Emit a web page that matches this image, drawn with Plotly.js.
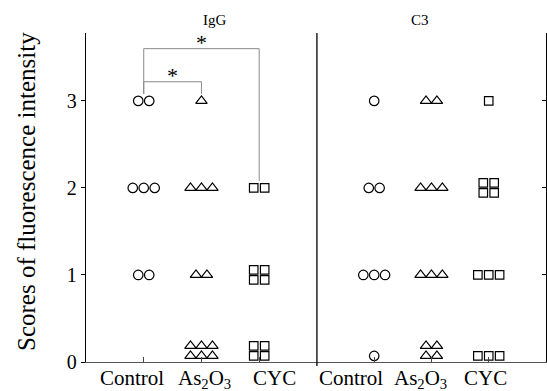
<!DOCTYPE html>
<html>
<head>
<meta charset="utf-8">
<script src="https://cdn.plot.ly/plotly-3.0.1.min.js"></script>
<style>html,body{margin:0;padding:0;background:#fff}#chart{width:547px;height:391px}</style>
</head>
<body>
<div id="chart"></div>
<script>
// ---- data (scores of each animal) ----
const categories = ['Control', 'As<sub>2</sub>O<sub>3</sub>', 'CYC'];
const panels = ['IgG', 'C3'];
const yTicks = [0, 1, 2, 3];
const yTitle = 'Scores of fluorescence intensity';

const iggControl = [3, 3, 2, 2, 2, 1, 1];
const iggAs2O3   = [3, 2, 2, 2, 1, 1, 0, 0, 0, 0, 0, 0];
const iggCYC     = [2, 2, 1, 1, 1, 1, 0, 0, 0, 0];

const c3Control  = [3, 2, 2, 1, 1, 1, 0];
const c3As2O3    = [3, 3, 2, 2, 2, 1, 1, 1, 0, 0, 0, 0];
const c3CYC      = [3, 2, 2, 2, 2, 1, 1, 1, 0, 0, 0];

// significance comparisons in IgG panel: [groupA, groupB, label]
const sigPairs = [[0, 1, '*'], [0, 2, '*']];

// ---- styling / layout helpers ----
const symbols = ['circle-open', 'triangle-up-open', 'square-open'];
const sizes = [9.5, 10, 8.5];
const dx = 0.19, dy = 0.115, zeroLift = 0.07;
const labelShift = [[-12, 3, 15], [-23, -11, -3]]; // px offsets of category labels

function arrange(scores, pos) {
  const counts = {};
  scores.forEach(s => counts[s] = (counts[s] || 0) + 1);
  const xs = [], ys = [];
  Object.keys(counts).forEach(k => {
    const s = +k, n = counts[k];
    const cols = n === 4 ? 2 : Math.min(n, 3);
    const rows = Math.ceil(n / cols);
    const center = s === 0 ? zeroLift + (rows - 1) * dy / 2 : s;
    for (let i = 0; i < n; i++) {
      const r = Math.floor(i / cols), c = i % cols;
      const inRow = Math.min(cols, n - r * cols);
      xs.push(pos + (c - (inRow - 1) / 2) * dx);
      ys.push(center + ((rows - 1) / 2 - r) * dy);
    }
  });
  return {xs, ys};
}

const panelData = [[iggControl, iggAs2O3, iggCYC], [c3Control, c3As2O3, c3CYC]];
const traces = [];
panelData.forEach((groups, p) => {
  groups.forEach((g, i) => {
    const a = arrange(g, i + 1);
    traces.push({
      x: a.xs, y: a.ys, type: 'scatter', mode: 'markers',
      xaxis: p === 0 ? 'x' : 'x2', yaxis: 'y',
      marker: {symbol: symbols[i], size: sizes[i], color: '#000', line: {color: '#000', width: 1.2}},
      showlegend: false, hoverinfo: 'skip'
    });
  });
});
// invisible trace for right axis
traces.push({x: [0], y: [0], xaxis: 'x2', yaxis: 'y2', mode: 'markers', marker: {opacity: 0}, showlegend: false, hoverinfo: 'skip'});

const serif = 'Liberation Serif, Times New Roman, serif';
const split = 0.502;
const yTop = 3.78;

const shapes = [];
const annotations = [];
const lv = [3.22, 3.6];
sigPairs.forEach((sp, k) => {
  const [a, b, lab] = sp;
  const g = panelData[0];
  const h = lv[k];
  const ea = Math.max(...g[a]) + 0.08, eb = Math.max(...g[b]) + 0.08;
  const st = {color: '#8a8a8a', width: 1};
  shapes.push({type: 'line', xref: 'x', yref: 'y', x0: a + 1, x1: b + 1, y0: h, y1: h, line: st});
  shapes.push({type: 'line', xref: 'x', yref: 'y', x0: a + 1, x1: a + 1, y0: h, y1: ea, line: st});
  shapes.push({type: 'line', xref: 'x', yref: 'y', x0: b + 1, x1: b + 1, y0: h, y1: eb, line: st});
  annotations.push({xref: 'x', yref: 'y', x: (a + b) / 2 + 1, y: h, text: lab, showarrow: false,
    yanchor: 'bottom', yshift: -8, font: {family: serif, size: 22, color: '#000'}});
});
// divider between panels
shapes.push({type: 'line', xref: 'paper', yref: 'paper', x0: split, x1: split, y0: -0.012, y1: 1, line: {color: '#000', width: 1.3}});

panels.forEach((t, p) => {
  annotations.push({xref: 'paper', yref: 'paper', x: p === 0 ? split / 2 : (split + 1) / 2, y: 1, yanchor: 'bottom', yshift: 3,
    text: t, showarrow: false, font: {family: serif, size: 15, color: '#000'}});
  // category labels
  categories.forEach((c, i) => {
    annotations.push({xref: p === 0 ? 'x' : 'x2', yref: 'paper', x: i + 1, y: 0, yanchor: 'top', yshift: -2,
      xshift: labelShift[p][i], text: c, showarrow: false, font: {family: serif, size: 21, color: '#000'}});
  });
});
// y axis title
annotations.push({xref: 'paper', yref: 'paper', x: 0, y: 0.5, xshift: -75, yshift: 6, textangle: -90,
  text: yTitle, showarrow: false, font: {family: serif, size: 25, color: '#000'}});

const xCommon = {
  range: [0, 4], tickvals: [1, 2, 3], ticktext: categories, showticklabels: false, ticks: 'inside', ticklen: 5,
  tickcolor: '#444', showline: true, linecolor: '#555', linewidth: 1.3, showgrid: false, zeroline: false, fixedrange: true
};

const layout = {
  width: 547, height: 391,
  margin: {l: 86, r: 1, t: 33, b: 29},
  paper_bgcolor: '#fff', plot_bgcolor: '#fff',
  xaxis: Object.assign({}, xCommon, {domain: [0, split], anchor: 'y'}),
  xaxis2: Object.assign({}, xCommon, {domain: [split, 1], anchor: 'y'}),
  yaxis: {
    range: [0, yTop], tickvals: yTicks, ticks: 'outside', ticklen: 4, tickcolor: '#000',
    showline: true, linecolor: '#000', linewidth: 1.3, showgrid: false, zeroline: false,
    tickfont: {family: serif, size: 20, color: '#000'}, automargin: false
  },
  yaxis2: {
    range: [0, yTop], tickvals: yTicks, ticks: 'inside', ticklen: 4, tickcolor: '#000',
    overlaying: 'y', side: 'right', anchor: 'x2', showticklabels: false,
    showline: true, linecolor: '#000', linewidth: 1.3, showgrid: false, zeroline: false
  },
  shapes: shapes,
  annotations: annotations
};

Plotly.newPlot('chart', traces, layout, {staticPlot: true, displayModeBar: false});
</script>
</body>
</html>
